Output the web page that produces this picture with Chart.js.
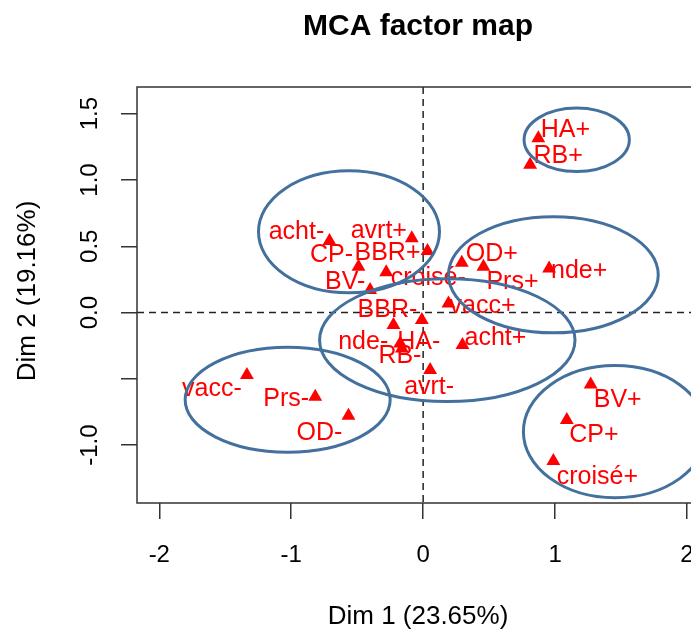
<!DOCTYPE html>
<html>
<head>
<meta charset="utf-8">
<script src="https://cdn.jsdelivr.net/npm/chart.js@4.4.1/dist/chart.umd.min.js"></script>
<style>
  html, body { margin: 0; padding: 0; background: #fff; overflow: hidden; }
  #wrap { width: 691px; height: 631px; overflow: hidden; }
  canvas { display: block; }
</style>
</head>
<body>
<div id="wrap"><canvas id="mca" width="720" height="631"></canvas></div>
<script>
// category labels and coordinates on Dim 1 / Dim 2
const categories = ['acht-', 'avrt+', 'BBR+', 'CP-', 'croisé-', 'BV-', 'OD+', 'Prs+', 'nde+', 'HA+', 'RB+', 'vacc+',
    'BBR-', 'HA-', 'nde-', 'RB-', 'acht+', 'avrt-', 'vacc-', 'Prs-', 'OD-', 'BV+', 'CP+', 'croisé+'];
const dim1 = [-0.710, -0.086, 0.033, -0.490, -0.280, -0.402, 0.293, 0.457, 0.955, 0.873, 0.811, 0.192,
    -0.225, -0.010, -0.174, -0.161, 0.298, 0.053, -1.336, -0.818, -0.566, 1.270, 1.089, 0.987];
const dim2 = [0.540, 0.560, 0.464, 0.346, 0.304, 0.170, 0.376, 0.346, 0.333, 1.314, 1.114, 0.069,
    -0.094, -0.056, -0.233, -0.271, -0.245, -0.434, -0.471, -0.635, -0.779, -0.542, -0.811, -1.120];

// ellipses: centre x, centre y, radius x, radius y (data units)
const ellipseCx = [-0.562, 1.164, 0.987, 0.183, -1.027, 1.455];
const ellipseCy = [0.609, 1.303, 0.285, -0.208, -0.657, -0.898];
const ellipseRx = [0.686, 0.399, 0.795, 0.968, 0.777, 0.695];
const ellipseRy = [0.460, 0.239, 0.438, 0.463, 0.396, 0.498];

const xTicks = [-2, -1, 0, 1, 2];
const xTickLabels = ['-2', '-1', '0', '1', '2'];
const yTicks = [-1, -0.5, 0, 0.5, 1, 1.5];
const yTickLabels = ['-1.0', '', '0.0', '0.5', '1.0', '1.5'];

// label placement (pixel offsets of the text centre from its point)
const labelDx = [-33, -33, -40, -27, 42, -25, 30, 29, 30, 27, 28, 34, -6, -3, -37, -2, 33, -1, -35, -29, -29, 27, 27, 44];
const labelDy = [-11, -9, 0, -14, 4, -10, -11, 13, 1, -10, -11, 1, -17, 20, -3, 5, -9, 15, 12, 0, 15, 14, 13, 14];

const FONT = '"Liberation Sans", Arial, sans-serif';
const RED = '#ff0000';
const BLUE = '#44709d';

const mcaPlugin = {
    id: 'mcaDecor',
    beforeDatasetsDraw(chart) {
        const { ctx, chartArea: a, scales: { x, y } } = chart;
        ctx.save();
        ctx.beginPath();
        ctx.rect(a.left, a.top, a.right - a.left, a.bottom - a.top);
        ctx.clip();
        ctx.strokeStyle = '#222';
        ctx.lineWidth = 1.5;
        ctx.setLineDash([7, 5]);
        const x0 = x.getPixelForValue(0);
        const y0 = y.getPixelForValue(0);
        ctx.beginPath();
        ctx.moveTo(x0, a.top); ctx.lineTo(x0, a.bottom);
        ctx.moveTo(a.left, y0); ctx.lineTo(a.right, y0);
        ctx.stroke();
        ctx.restore();
    },
    afterDatasetsDraw(chart) {
        const { ctx, chartArea: a, scales: { x, y } } = chart;
        const meta = chart.getDatasetMeta(0);

        // point labels
        ctx.save();
        ctx.fillStyle = RED;
        ctx.font = '25px ' + FONT;
        ctx.textAlign = 'center';
        ctx.textBaseline = 'alphabetic';
        meta.data.forEach((pt, i) => {
            ctx.fillText(categories[i], pt.x + labelDx[i], pt.y + labelDy[i] + 9);
        });
        ctx.restore();

        // ellipses
        ctx.save();
        ctx.beginPath();
        ctx.rect(a.left, a.top, a.right - a.left, a.bottom - a.top);
        ctx.clip();
        ctx.strokeStyle = BLUE;
        ctx.lineWidth = 3;
        ellipseCx.forEach((cx, i) => {
            const px = x.getPixelForValue(cx);
            const py = y.getPixelForValue(ellipseCy[i]);
            const rx = Math.abs(x.getPixelForValue(cx + ellipseRx[i]) - px);
            const ry = Math.abs(y.getPixelForValue(ellipseCy[i] + ellipseRy[i]) - py);
            ctx.beginPath();
            ctx.ellipse(px, py, rx, ry, 0, 0, Math.PI * 2);
            ctx.stroke();
        });
        ctx.restore();
    },
    afterDraw(chart) {
        const { ctx, chartArea: a, scales: { x, y } } = chart;
        ctx.save();
        // plot box
        ctx.strokeStyle = '#333';
        ctx.lineWidth = 1.5;
        ctx.strokeRect(a.left, a.top, a.right - a.left, a.bottom - a.top);

        ctx.fillStyle = '#000';
        // x tick labels
        ctx.font = '24px ' + FONT;
        ctx.textAlign = 'center';
        ctx.textBaseline = 'alphabetic';
        xTicks.forEach((v, i) => {
            ctx.fillText(xTickLabels[i], x.getPixelForValue(v), 562);
        });
        // y tick labels, rotated like R
        yTicks.forEach((v, i) => {
            if (!yTickLabels[i]) return;
            ctx.save();
            ctx.translate(97, y.getPixelForValue(v));
            ctx.rotate(-Math.PI / 2);
            ctx.fillText(yTickLabels[i], 0, 0);
            ctx.restore();
        });
        // axis titles
        ctx.font = '26px ' + FONT;
        ctx.fillText('Dim 1 (23.65%)', (a.left + a.right) / 2, 624);
        ctx.save();
        ctx.translate(35, (a.top + a.bottom) / 2 - 4);
        ctx.rotate(-Math.PI / 2);
        ctx.fillText('Dim 2 (19.16%)', 0, 0);
        ctx.restore();
        // main title
        ctx.font = 'bold 30px ' + FONT;
        ctx.fillText('MCA factor map', (a.left + a.right) / 2, 35);
        ctx.restore();
    }
};

function fixedTicks(values) {
    return (scale) => { scale.ticks = values.map(v => ({ value: v })); };
}

const axisGrid = {
    drawOnChartArea: false,
    drawTicks: true,
    tickLength: 16,
    color: '#333',
    lineWidth: 1.5
};

new Chart(document.getElementById('mca'), {
    type: 'scatter',
    data: {
        datasets: [{
            data: dim1.map((v, i) => ({ x: v, y: dim2[i] })),
            pointStyle: 'triangle',
            pointRadius: 8,
            pointHoverRadius: 8,
            backgroundColor: RED,
            borderColor: RED,
            borderWidth: 0
        }]
    },
    options: {
        responsive: false,
        animation: false,
        devicePixelRatio: 1,
        layout: { padding: { top: 87, right: 21, left: 0, bottom: 0 } },
        plugins: { legend: { display: false }, tooltip: { enabled: false } },
        scales: {
            x: {
                type: 'linear',
                min: -2.169,
                max: 2.091,
                afterBuildTicks: fixedTicks(xTicks),
                afterFit: (s) => { s.height = 128; },
                ticks: { display: false },
                grid: axisGrid,
                border: { display: false }
            },
            y: {
                type: 'linear',
                min: -1.436,
                max: 1.701,
                afterBuildTicks: fixedTicks(yTicks),
                afterFit: (s) => { s.width = 137; },
                ticks: { display: false },
                grid: axisGrid,
                border: { display: false }
            }
        }
    },
    plugins: [mcaPlugin]
});
</script>
</body>
</html>
